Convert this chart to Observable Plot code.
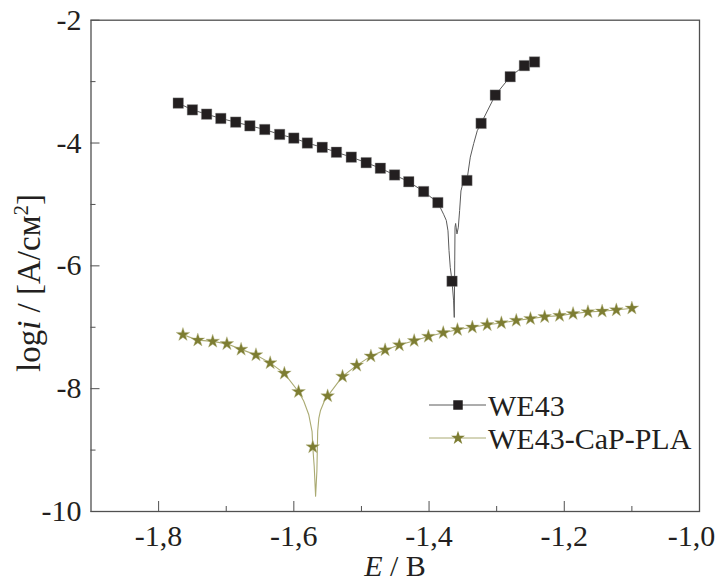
<!DOCTYPE html>
<html>
<head>
<meta charset="utf-8">
<script src="https://cdn.jsdelivr.net/npm/d3@7"></script>
<script src="https://cdn.jsdelivr.net/npm/@observablehq/plot@0.6"></script>
<style>
  html, body { margin: 0; padding: 0; background: #fff; }
  #chart { width: 718px; height: 583px; }
</style>
</head>
<body>
<div id="chart"></div>
<script>
// ---- Data ----
// WE43: polarisation curve (line) and its square markers
const we43MarkE = [-1.771, -1.750, -1.729, -1.708, -1.686, -1.665, -1.643, -1.621, -1.600, -1.580,
                   -1.558, -1.537, -1.515, -1.493, -1.472, -1.451, -1.430, -1.408, -1.387, -1.366,
                   -1.344, -1.323, -1.302, -1.280, -1.259, -1.244];
const we43MarkLogI = [-3.35, -3.46, -3.53, -3.60, -3.66, -3.72, -3.78, -3.86, -3.92, -4.00,
                      -4.07, -4.15, -4.23, -4.32, -4.41, -4.52, -4.63, -4.79, -4.97, -6.25,
                      -4.61, -3.68, -3.22, -2.92, -2.74, -2.68];
const we43LineE = [-1.771, -1.750, -1.729, -1.708, -1.686, -1.665, -1.643, -1.621, -1.600, -1.580,
                   -1.558, -1.537, -1.515, -1.493, -1.472, -1.451, -1.430, -1.408, -1.387,
                   -1.3785, -1.3745, -1.372, -1.3705, -1.3686, -1.366, -1.3637, -1.3627,
                   -1.3620, -1.3616, -1.3607, -1.3587, -1.3567, -1.3548, -1.3528, -1.3501,
                   -1.344, -1.339, -1.334, -1.3287, -1.323, -1.302, -1.280, -1.259, -1.244];
const we43LineLogI = [-3.35, -3.46, -3.53, -3.60, -3.66, -3.72, -3.78, -3.86, -3.92, -4.00,
                      -4.07, -4.15, -4.23, -4.32, -4.41, -4.52, -4.63, -4.79, -4.97,
                      -5.16, -5.26, -5.43, -5.75, -6.03, -6.25, -6.57, -6.84,
                      -5.92, -5.37, -5.31, -5.48, -5.37, -5.10, -4.78, -4.66,
                      -4.61, -4.23, -4.01, -3.80, -3.68, -3.22, -2.92, -2.74, -2.68];

// WE43-CaP-PLA: polarisation curve (line) and its star markers
const coatMarkE = [-1.764, -1.742, -1.720, -1.699, -1.678, -1.656, -1.635, -1.614, -1.593, -1.572,
                   -1.550, -1.528, -1.507, -1.486, -1.465, -1.444, -1.422, -1.401, -1.379, -1.358,
                   -1.336, -1.314, -1.293, -1.271, -1.250, -1.229, -1.207, -1.187, -1.165, -1.144,
                   -1.123, -1.100];
const coatMarkLogI = [-7.12, -7.21, -7.23, -7.27, -7.36, -7.45, -7.58, -7.75, -8.05, -8.95,
                      -8.12, -7.80, -7.62, -7.47, -7.37, -7.29, -7.22, -7.15, -7.09, -7.04,
                      -7.00, -6.96, -6.93, -6.89, -6.86, -6.83, -6.81, -6.78, -6.75, -6.74,
                      -6.72, -6.69];
const coatLineE = [-1.764, -1.742, -1.720, -1.699, -1.678, -1.656, -1.635, -1.614, -1.593,
                   -1.5854, -1.578, -1.573, -1.572, -1.5699, -1.5678, -1.5659, -1.5647, -1.563,
                   -1.5607, -1.5548,
                   -1.550, -1.528, -1.507, -1.486, -1.465, -1.444, -1.422, -1.401, -1.379, -1.358,
                   -1.336, -1.314, -1.293, -1.271, -1.250, -1.229, -1.207, -1.187, -1.165, -1.144,
                   -1.123, -1.100];
const coatLineLogI = [-7.12, -7.21, -7.23, -7.27, -7.36, -7.45, -7.58, -7.75, -8.05,
                      -8.20, -8.42, -8.70, -8.95, -9.26, -9.75, -9.34, -8.69, -8.48,
                      -8.36, -8.20,
                      -8.12, -7.80, -7.62, -7.47, -7.37, -7.29, -7.22, -7.15, -7.09, -7.04,
                      -7.00, -6.96, -6.93, -6.89, -6.86, -6.83, -6.81, -6.78, -6.75, -6.74,
                      -6.72, -6.69];

// Axis ticks
const xMajorTicks = [-1.8, -1.6, -1.4, -1.2, -1.0];
const xMinorTicks = [-1.7, -1.5, -1.3, -1.1];
const yMajorTicks = [-10, -8, -6, -4, -2];
const yMinorTicks = [-9, -7, -5, -3];

const seriesNames = ["WE43", "WE43-CaP-PLA"];

// ---- Build tables ----
const zip = (E, I) => E.map((e, k) => ({E: e, logI: I[k]}));
const we43Line = zip(we43LineE, we43LineLogI);
const we43Marks = zip(we43MarkE, we43MarkLogI);
const coatLine = zip(coatLineE, coatLineLogI);
const coatMarks = zip(coatMarkE, coatMarkLogI);

const ink = "#231f20";
const axisGray = "#505050";
const we43Stroke = "#5a5a5a";
const coatFill = "#7d7d32";
const coatStroke = "#aaaa72";

const fmtX = d => d.toFixed(1).replace(".", ",");
const fmtY = d => String(d);
const fam = "Liberation Serif, Times New Roman, serif";

const chart = Plot.plot({
  width: 718,
  height: 583,
  marginLeft: 90.5,
  marginRight: 19,
  marginTop: 19.7,
  marginBottom: 72,
  style: {fontFamily: fam, fontSize: "30px", color: ink, background: "#fff"},
  x: {domain: [-1.9, -1.0], label: null},
  y: {domain: [-10, -2], label: null},
  marks: [
    Plot.frame({stroke: axisGray, strokeWidth: 1.3}),
    // tick labels (last x label nudged left so it stays inside the picture)
    Plot.axisX(xMajorTicks.slice(0, -1), {tickSize: 0, tickPadding: 13, tickFormat: fmtX, label: null, fontSize: 30, fill: ink}),
    Plot.axisX(xMajorTicks.slice(-1), {tickSize: 0, tickPadding: 13, tickFormat: fmtX, label: null, fontSize: 30, fill: ink, dx: -8}),
    Plot.axisY(yMajorTicks, {tickSize: 0, tickPadding: 9.5, tickFormat: fmtY, label: null, fontSize: 30, fill: ink}),
    // inward ticks
    Plot.axisX(xMajorTicks, {tickSize: -10, tickFormat: () => "", label: null, stroke: axisGray}),
    Plot.axisX(xMinorTicks, {tickSize: -5, tickFormat: () => "", label: null, stroke: axisGray}),
    Plot.axisY(yMajorTicks, {tickSize: -9, tickFormat: () => "", label: null, stroke: axisGray}),
    Plot.axisY(yMinorTicks, {tickSize: -5, tickFormat: () => "", label: null, stroke: axisGray}),
    // curves
    Plot.line(we43Line, {x: "E", y: "logI", stroke: we43Stroke, strokeWidth: 1}),
    Plot.line(coatLine, {x: "E", y: "logI", stroke: coatStroke, strokeWidth: 1.1}),
    Plot.dot(we43Marks, {x: "E", y: "logI", symbol: "square", r: 5.9, fill: ink, stroke: "#8a8a8a", strokeWidth: 0.4}),
    Plot.dot(coatMarks, {x: "E", y: "logI", symbol: "star", r: 4.3, fill: coatFill, stroke: "#b8b888", strokeWidth: 0.4})
  ]
});

document.getElementById("chart").appendChild(chart);

// ---- Axis titles and legend (text with italic / superscript parts) ----
const svg = d3.select(chart);

// y title: log i / [A/см2]
const yt = svg.append("text")
  .attr("transform", "translate(40,283) rotate(-90)")
  .attr("text-anchor", "middle")
  .attr("font-family", fam)
  .attr("font-size", 33)
  .attr("fill", ink);
yt.append("tspan").text("log");
yt.append("tspan").attr("font-style", "italic").text("i");
yt.append("tspan").text(" / [A/см");
yt.append("tspan").attr("font-size", 21).attr("dy", -12).text("2");
yt.append("tspan").attr("dy", 12).text("]");

// x title: E / B
const xt = svg.append("text")
  .attr("x", 395)
  .attr("y", 576)
  .attr("text-anchor", "middle")
  .attr("font-family", fam)
  .attr("font-size", 30)
  .attr("fill", ink);
xt.append("tspan").attr("font-style", "italic").text("E");
xt.append("tspan").text(" / B");

// legend
const legendStyles = [
  {line: we43Stroke, fill: ink, symbol: d3.symbolSquare, size: 90},
  {line: coatStroke, fill: coatFill, symbol: d3.symbolStar, size: 60}
];
const lg = svg.append("g");
seriesNames.forEach((name, k) => {
  const st = legendStyles[k];
  const yy = 405 + k * 33;
  lg.append("line").attr("x1", 429).attr("x2", 486).attr("y1", yy).attr("y2", yy)
    .attr("stroke", st.line).attr("stroke-width", 1);
  lg.append("path").attr("d", d3.symbol(st.symbol, st.size)())
    .attr("transform", `translate(458,${yy})`).attr("fill", st.fill);
  lg.append("text").attr("x", 488).attr("y", yy).attr("dy", "0.35em")
    .attr("text-anchor", "start")
    .attr("font-family", fam).attr("font-size", 30).attr("fill", ink).text(name);
});
</script>
</body>
</html>
